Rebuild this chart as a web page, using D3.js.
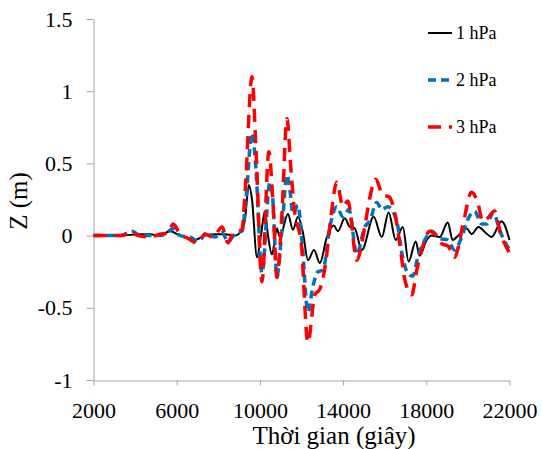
<!DOCTYPE html>
<html>
<head>
<meta charset="utf-8">
<script src="https://cdn.jsdelivr.net/npm/d3@7"></script>
<style>
  body { margin: 0; background: #fff; }
  text { font-family: "Liberation Serif", "Times New Roman", serif; fill: #000; }
</style>
</head>
<body>
<script>
"use strict";

// Z (m) theo thời gian (giây)
const xTicks = [2000, 6000, 10000, 14000, 18000, 22000];
const yTicks = [-1, -0.5, 0, 0.5, 1, 1.5];
const seriesNames = ["1 hPa", "2 hPa", "3 hPa"];

const z1hPa = [
  [2000, 0], [3280, 0], [4240, 0.01], [4720, 0.01], [5200, 0], [5680, 0.03],
  [6160, 0], [6400, -0.01], [6880, -0.03], [7360, 0], [7840, 0.01], [8320, 0.01],
  [8800, 0], [9090, 0.03], [9280, 0.11], [9470, 0.35], [9620, 0.25], [9860, -0.15],
  [10050, 0], [10240, 0.17], [10390, 0], [10580, -0.13], [10820, 0.05], [10960, -0.01],
  [11350, 0.15], [11590, 0.04], [11830, 0.13], [12070, 0.02], [12310, -0.17], [12600, -0.1],
  [12880, -0.19], [13220, -0.01], [13550, 0.07], [13750, 0.03], [14080, 0.12], [14320, 0.06],
  [14560, 0.05], [14900, -0.1], [15470, 0.13], [15860, -0.01], [16190, 0.16], [16530, -0.03],
  [16870, 0.06], [17150, -0.18], [17490, -0.04], [17680, -0.14], [18020, -0.03], [18260, 0],
  [18640, -0.01], [19030, 0.09], [19270, -0.03], [19600, 0.01], [19940, 0.05], [20180, 0.01],
  [20510, 0.06], [20850, 0.02], [21140, -0.01], [21620, 0.1], [22000, -0.03]
];

const z2hPa = [
  [2000, 0], [3280, 0], [3860, 0.03], [4240, 0], [5200, 0], [5440, 0.01],
  [5830, 0.05], [6160, 0], [6640, -0.01], [7030, -0.04], [7460, 0.02], [7840, -0.01],
  [8180, 0.02], [8470, -0.04], [8850, 0.02], [9140, 0.03], [9330, 0.25], [9620, 0.71],
  [9810, 0.46], [10100, -0.26], [10480, 0.37], [10620, 0.25], [10820, -0.28], [11060, 0.04],
  [11300, 0.42], [11440, 0.32], [11590, 0.15], [11830, 0.21], [12020, -0.03], [12310, -0.53],
  [12550, -0.35], [12790, -0.25], [13030, -0.24], [13360, 0.06], [13700, 0.2], [13990, 0.13],
  [14280, 0.18], [14660, -0.13], [15040, 0.06], [15280, 0.1], [15620, 0.23], [15860, 0.18],
  [16150, 0.2], [16580, 0.1], [16820, -0.12], [17110, -0.26], [17350, -0.28], [17590, -0.15],
  [17930, -0.03], [18260, 0.03], [18640, -0.02], [19030, -0.03], [19360, -0.1], [19700, -0.01],
  [19990, 0.11], [20320, 0.17], [20660, 0.08], [20900, 0.08], [21230, 0.16], [21520, 0.04],
  [22000, -0.1]
];

const z3hPa = [
  [2000, 0], [3430, 0], [3760, 0.03], [4150, 0], [4720, -0.01], [5200, 0.01],
  [5590, 0.02], [5830, 0.08], [6160, 0.01], [6550, -0.02], [6980, -0.05], [7360, 0.01],
  [7750, -0.01], [8180, 0.06], [8470, -0.05], [8710, 0.02], [9140, 0.04], [9280, 0.28],
  [9620, 1.1], [9810, 0.6], [10100, -0.32], [10430, 0.58], [10620, 0.25], [10820, -0.29],
  [11060, 0.15], [11300, 0.81], [11490, 0.46], [11680, 0.15], [11830, 0.06], [11970, -0.03],
  [12310, -0.74], [12640, -0.41], [12880, -0.37], [13170, -0.18], [13360, 0.06], [13700, 0.37],
  [13990, 0.2], [14230, 0.24], [14660, -0.17], [15040, 0.06], [15280, 0.26], [15570, 0.39],
  [15910, 0.28], [16200, 0.27], [16480, 0.16], [16720, -0.05], [16960, -0.3], [17300, -0.41],
  [17540, -0.24], [17820, -0.08], [18160, 0.03], [18490, 0], [18780, -0.06], [19030, -0.07],
  [19360, -0.15], [19740, 0.06], [20170, 0.3], [20510, 0.21], [20700, 0.1], [20940, 0.12],
  [21280, 0.17], [21560, 0.02], [22000, -0.12]
];

const series = [
  { name: seriesNames[0], values: z1hPa, color: "#000000", width: 2, dash: null },
  { name: seriesNames[1], values: z2hPa, color: "#0070C0", width: 3.5, dash: "8,5" },
  { name: seriesNames[2], values: z3hPa, color: "#FF0000", width: 3.5, dash: "13,8" }
];

const serif = "'Liberation Serif', 'Times New Roman', serif";

const svg = d3.select("body").append("svg")
  .attr("width", 542)
  .attr("height", 449);

const x = d3.scaleLinear().domain([2000, 22000]).range([93.5, 509.5]);
const y = d3.scaleLinear().domain([-1, 1.5]).range([380, 19]);

// trục y
const yAxis = svg.append("g")
  .attr("transform", "translate(93.5,0)")
  .call(d3.axisLeft(y).tickValues(yTicks).tickSize(7).tickSizeOuter(0)
    .tickPadding(14).tickFormat((d) => String(d)));

// trục x (nằm ở đáy, y = -1)
const xAxis = svg.append("g")
  .attr("transform", "translate(0,380.5)")
  .call(d3.axisBottom(x).tickValues(xTicks).tickSize(5).tickSizeOuter(0)
    .tickPadding(17).tickFormat((d) => String(d)));

[yAxis, xAxis].forEach((g) => {
  g.attr("font-family", serif);
  g.select(".domain").attr("stroke", "#a6a6a6");
  g.selectAll(".tick line").attr("stroke", "#a6a6a6");
  g.selectAll(".tick text")
    .style("font-family", serif)
    .style("font-size", "22px")
    .attr("fill", "#000");
});

const line = d3.line()
  .x((d) => x(d[0]))
  .y((d) => y(d[1]))
  .curve(d3.curveMonotoneX);

svg.selectAll("path.series")
  .data(series)
  .enter()
  .append("path")
  .attr("class", "series")
  .attr("d", (d) => line(d.values))
  .attr("fill", "none")
  .attr("stroke", (d) => d.color)
  .attr("stroke-width", (d) => d.width)
  .attr("stroke-dasharray", (d) => d.dash);

// tiêu đề trục
svg.append("text")
  .attr("x", 334)
  .attr("y", 444)
  .attr("text-anchor", "middle")
  .style("font-size", "25px")
  .text("Thời gian (giây)");

svg.append("text")
  .attr("transform", "translate(27,201) rotate(-90)")
  .attr("text-anchor", "middle")
  .style("font-size", "25px")
  .text("Z (m)");

// chú giải
const legend = svg.selectAll("g.legend")
  .data(series)
  .enter()
  .append("g")
  .attr("class", "legend")
  .attr("transform", (d, i) => `translate(428,${33 + i * 47})`);

legend.append("line")
  .attr("x1", 0)
  .attr("x2", 24)
  .attr("stroke", (d) => d.color)
  .attr("stroke-width", (d) => d.width)
  .attr("stroke-dasharray", (d) => d.dash);

legend.append("text")
  .attr("x", 28)
  .attr("dy", "0.35em")
  .style("font-size", "18px")
  .text((d) => d.name);
</script>
</body>
</html>
